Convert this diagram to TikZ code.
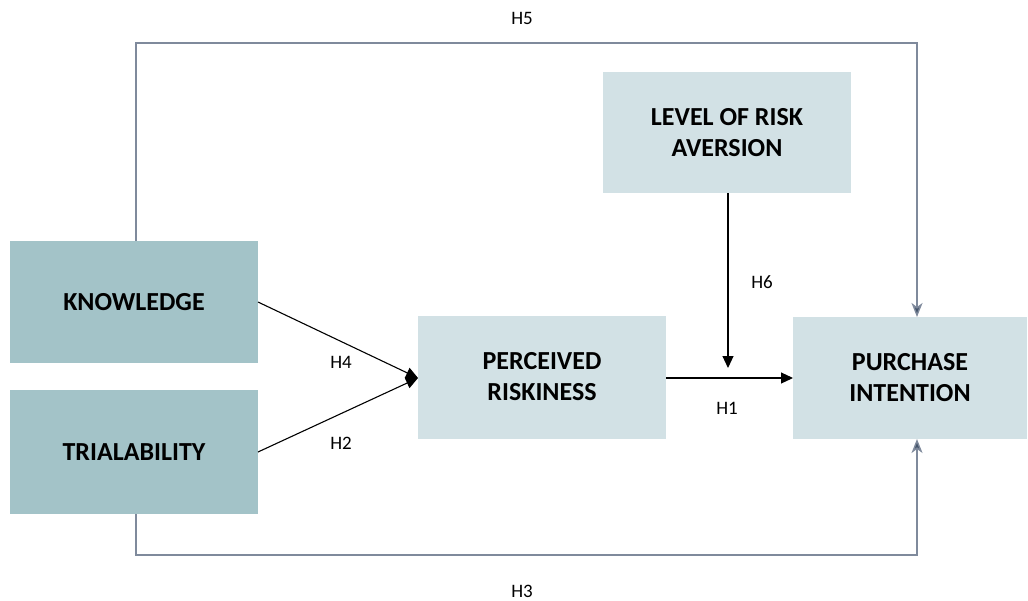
\documentclass[tikz,border=0pt]{standalone}
\usepackage{fontspec}
\setmainfont{Carlito}
\usetikzlibrary{arrows.meta}
\definecolor{darkbox}{HTML}{A3C3C8}
\definecolor{lightbox}{HTML}{D2E1E5}
\definecolor{pathgray}{HTML}{7F8A9C}
\definecolor{tipgray}{HTML}{44546A}
\begin{document}
\begin{tikzpicture}[x=1pt,y=-1pt,
  boxstyle/.style={inner sep=0pt, align=center, font=\fontsize{26}{31}\selectfont\bfseries},
  lbl/.style={font=\fontsize{19}{22}\selectfont},
  blk/.style={draw=black, line width=1.1pt, -{Triangle[length=12pt,width=11pt]}},
  gry/.style={draw=pathgray, line width=1.4pt, -{Stealth[length=14pt,width=11pt,inset=4pt,fill=tipgray]}}
]
\useasboundingbox (0,0) rectangle (1028,600);
\fill[darkbox] (10,241) rectangle (258,363);
\node[boxstyle] (kn) at (134,302) {KNOWLEDGE};
\coordinate (knN) at (136,241);
\coordinate (knE) at (258,302);
\fill[darkbox] (10,390) rectangle (258,514);
\node[boxstyle] (tr) at (134,452) {TRIALABILITY};
\coordinate (trS) at (136,514);
\coordinate (trE) at (258,452);
\fill[lightbox] (418,316) rectangle (666,439);
\node[boxstyle] (pr) at (542,377) {PERCEIVED\\RISKINESS};
\coordinate (prW) at (418,378);
\coordinate (prE) at (666,378);
\fill[lightbox] (793,317) rectangle (1027,439);
\node[boxstyle] (pi) at (910,378) {PURCHASE\\INTENTION};
\coordinate (piW) at (793,378);
\coordinate (piN) at (917,317);
\coordinate (piS) at (917,439);
\fill[lightbox] (603,72) rectangle (851,193);
\node[boxstyle] (lr) at (727,133) {LEVEL OF RISK\\AVERSION};
\coordinate (lrS) at (728,193);
\coordinate (mod) at (728,368);

\draw[blk] (knE) -- (prW);
\draw[blk] (trE) -- (prW);
\draw[blk] (prE) -- (piW);
\draw[blk] (lrS) -- (mod);
\draw[gry] (knN) -- (136,43) -- (917,43) -- (piN);
\draw[gry] (trS) -- (136,555) -- (917,555) -- (piS);

\node[lbl] (h5) at (522,18) {H5};
\node[lbl] (h3) at (522,591) {H3};
\node[lbl] (h4) at (341,362) {H4};
\node[lbl] (h2) at (341,443) {H2};
\node[lbl] (h1) at (727,408) {H1};
\node[lbl] (h6) at (762,282) {H6};
\end{tikzpicture}
\end{document}
